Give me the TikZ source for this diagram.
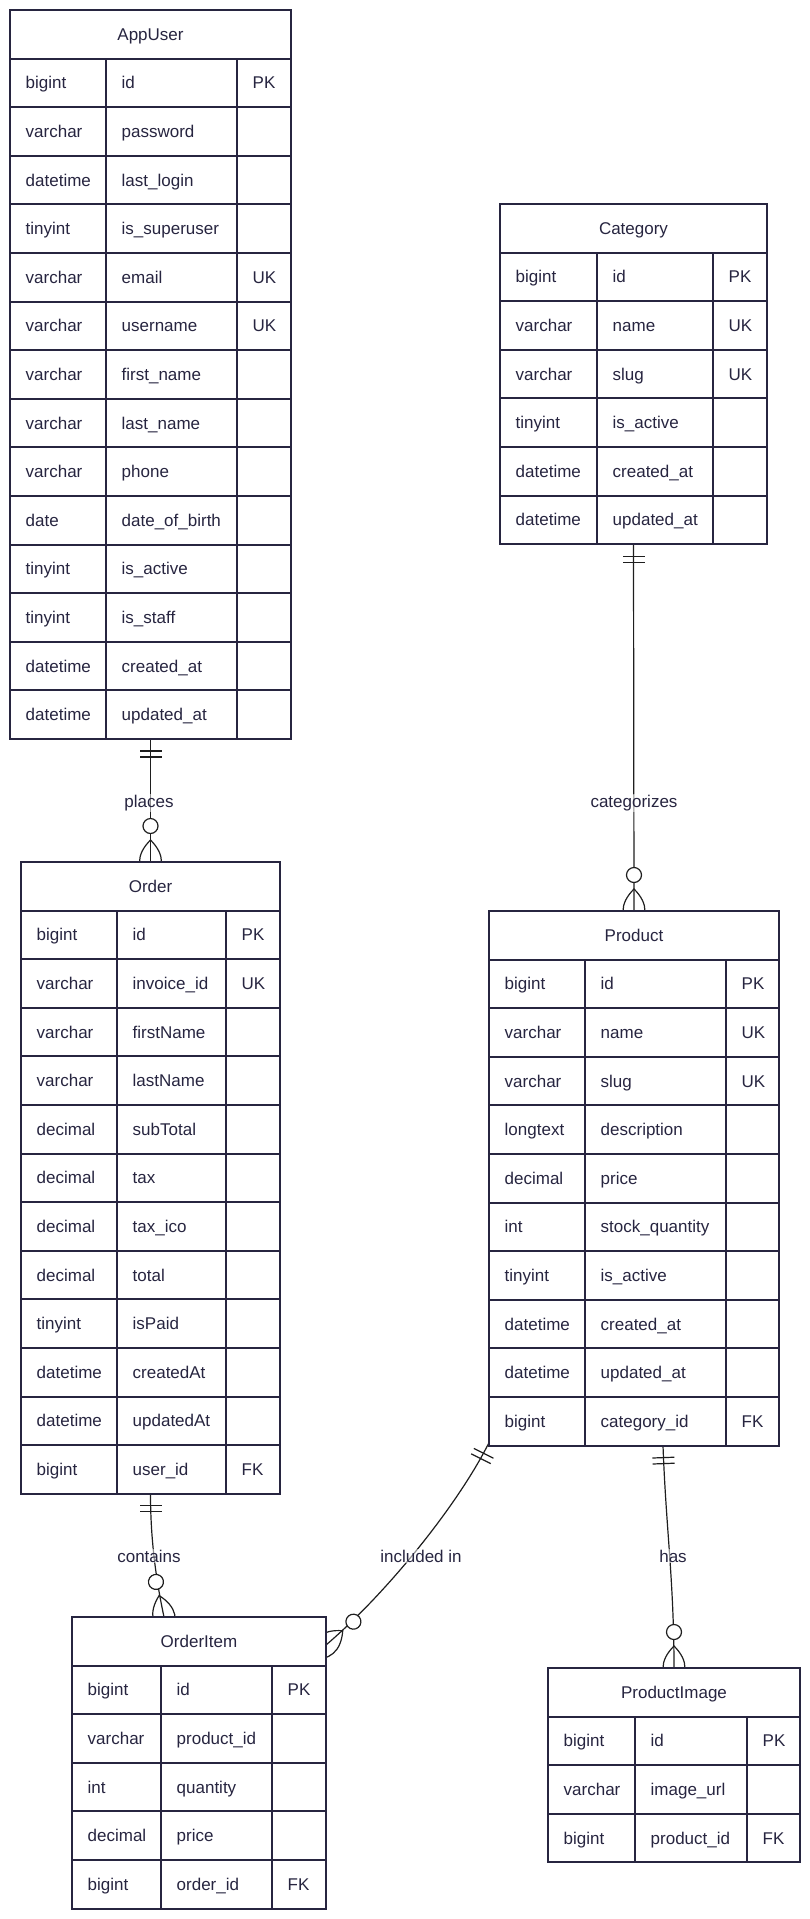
\documentclass[tikz,border=0pt]{standalone}
\usepackage{fontspec}
\setmainfont{Liberation Sans}
\usetikzlibrary{calc}
\pgfdeclarelayer{background}
\pgfsetlayers{background,main}
\definecolor{ink}{RGB}{39,37,64}
\definecolor{wire}{RGB}{30,30,30}

% #1 name, #2 title, #3 x0, #4 x1, #5 x2, #6 x3, #7 y0, #8 number of rows, #9 rows
\newcommand{\ertab}[9]{%
  \pgfmathsetmacro{\hh}{48.6*(#8+1)}%
  \pgfmathsetmacro{\ww}{#6-#3}%
  \node[tbl, minimum width=\ww pt, minimum height=\hh pt, anchor=north west] (#1) at (#3,#7) {};
  \node[txt, anchor=base] (#1-title) at ({(#3+#6)/2}, #7+30.3) {#2};
  \foreach \ta/\tb/\tc [count=\ti] in {#9} {
    \pgfmathsetmacro{\yt}{#7+48.6*\ti}
    \draw[tline] (#3,\yt) -- (#6,\yt);
    \node[txt] at (#3+15.5, \yt+30.3) {\ta};
    \node[txt] at (#4+15.5, \yt+30.3) {\tb};
    \node[txt] at (#5+15.5, \yt+30.3) {\tc};
  }
  \draw[tline] (#4,#7+48.6) -- (#4,#7+\hh);
  \draw[tline] (#5,#7+48.6) -- (#5,#7+\hh);
  \draw[tline] (#1.north west) rectangle (#1.south east);
}
% one-and-only-one marker: point, outward angle
\newcommand{\markone}[2]{%
  \begin{scope}[shift={(#1)},rotate=#2]
    \draw[conn] (12,-11) -- (12,11) (18,-11) -- (18,11);
  \end{scope}}
% zero-or-more marker: point, outward angle (inner half hidden by the box)
\newcommand{\markmany}[2]{%
  \begin{scope}[shift={(#1)},rotate=#2]
    \draw[conn] (-22,0) .. controls (-7.33,14.67) and (7.33,14.67) .. (22,0)
                        .. controls (7.33,-14.67) and (-7.33,-14.67) .. (-22,0);
    \draw[conn, fill=white] (36,0) circle[radius=7.5];
  \end{scope}}

\begin{document}
\begin{tikzpicture}[x=1pt,y=-1pt,
  tbl/.style={draw=ink, line width=2pt, fill=white, outer sep=0pt, inner sep=0pt},
  tline/.style={draw=ink, line width=2pt},
  txt/.style={text=ink, font=\fontsize{17}{20}\selectfont, inner sep=0pt, anchor=base west},
  conn/.style={draw=wire, line width=1.2pt},
  lbl/.style={text=ink, font=\fontsize{17}{20}\selectfont, inner sep=1pt, anchor=base,
              fill=white, fill opacity=0.5, text opacity=1}]
\useasboundingbox (0,0) rectangle (810,1919);

\ertab{AppUser}{AppUser}{10}{106}{237}{291}{10}{14}{bigint/id/PK, varchar/password/{}, datetime/last\_login/{}, tinyint/is\_superuser/{}, varchar/email/UK, varchar/username/UK, varchar/first\_name/{}, varchar/last\_name/{}, varchar/phone/{}, date/date\_of\_birth/{}, tinyint/is\_active/{}, tinyint/is\_staff/{}, datetime/created\_at/{}, datetime/updated\_at/{}}

\ertab{Category}{Category}{500}{597}{713}{767}{204}{6}{bigint/id/PK, varchar/name/UK, varchar/slug/UK, tinyint/is\_active/{}, datetime/created\_at/{}, datetime/updated\_at/{}}

\ertab{Order}{Order}{21}{117}{226}{280}{862}{12}{bigint/id/PK, varchar/invoice\_id/UK, varchar/firstName/{}, varchar/lastName/{}, decimal/subTotal/{}, decimal/tax/{}, decimal/tax\_ico/{}, decimal/total/{}, tinyint/isPaid/{}, datetime/createdAt/{}, datetime/updatedAt/{}, bigint/user\_id/FK}

\ertab{Product}{Product}{489}{585}{726}{779}{911}{10}{bigint/id/PK, varchar/name/UK, varchar/slug/UK, longtext/description/{}, decimal/price/{}, int/stock\_quantity/{}, tinyint/is\_active/{}, datetime/created\_at/{}, datetime/updated\_at/{}, bigint/category\_id/FK}

\ertab{OrderItem}{OrderItem}{72}{161}{272}{326}{1617}{5}{bigint/id/PK, varchar/product\_id/{}, int/quantity/{}, decimal/price/{}, bigint/order\_id/FK}

\ertab{ProductImage}{ProductImage}{548}{635}{747}{800}{1668}{3}{bigint/id/PK, varchar/image\_url/{}, bigint/product\_id/FK}

% connector end points
\coordinate (ciS) at ($(OrderItem.north west)+(92,0)$);
\coordinate (pS) at ($(Product.south west)+(0,-3)$);
\coordinate (oiE) at ($(OrderItem.north east)+(0,28)$);
\coordinate (hS) at ($(Product.south)+(29,0)$);

\begin{pgfonlayer}{background}
% places
\draw[conn] (AppUser.south) -- (Order.north);
\markone{AppUser.south}{-90}
\markmany{Order.north}{90}

% categorizes
\draw[conn] (Category.south) -- (Product.north);
\markone{Category.south}{-90}
\markmany{Product.north}{90}

% contains
\draw[conn] (Order.south) .. controls ($(Order.south)+(0,50)$) and ($(ciS)+(-7,-33)$) .. (ciS);
\markone{Order.south}{-90}
\markmany{ciS}{102.9}

% included in
\draw[conn] (pS) .. controls ($(pS)+(-31.3,62.6)$) and ($(oiE)+(60.8,-52)$) .. (oiE);
\markone{pS}{-116.6}
\markmany{oiE}{40.4}

% has
\draw[conn] (hS) .. controls ($(hS)+(3,83)$) and ($(ProductImage.north)+(0,-87)$) .. (ProductImage.north);
\markone{hS}{-87.9}
\markmany{ProductImage.north}{90}
\end{pgfonlayer}

\node[lbl] (lplaces) at (149,807) {places};
\node[lbl] (lcat) at (634,807) {categorizes};
\node[lbl] (lcont) at (149,1562) {contains};
\node[lbl] (lincl) at (421,1562) {included in};
\node[lbl] (lhas) at (673,1562) {has};
\end{tikzpicture}
\end{document}
